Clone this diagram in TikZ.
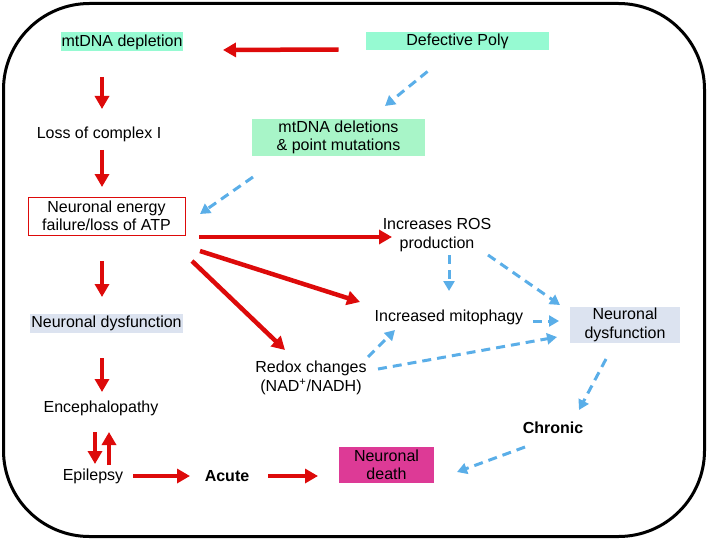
\documentclass[tikz,border=0pt]{standalone}
\usepackage{fontspec}
\setmainfont{Liberation Sans}
\usetikzlibrary{arrows.meta}
\definecolor{cred}{HTML}{DD0A0A}
\definecolor{cblue}{HTML}{5AAEE8}
\definecolor{cgreenA}{HTML}{96FAD2}
\definecolor{cgreenB}{HTML}{A8F5C8}
\definecolor{cgray}{HTML}{DCE3F0}
\definecolor{cmag}{HTML}{DD3A96}
\tikzset{
  txt/.style={font=\fontsize{16}{18.5}\selectfont, align=center, inner sep=0pt},
  redarr/.style={draw=cred, line width=4.5pt, -{Triangle[length=13pt,width=14pt]}},
  bluearr/.style={draw=cblue, line width=3pt, dash pattern=on 9pt off 6pt, -{Triangle[length=10pt,width=11pt]}}
}
\begin{document}
\begin{tikzpicture}[x=1pt,y=-1pt]
\useasboundingbox (0,0) rectangle (708,540);
\draw[line width=3pt, rounded corners=86pt] (3.5,3.5) rectangle (704.5,536.5);

\node[txt, fill=cgreenA, minimum width=122pt, minimum height=19pt] (dep) at (122,42) {mtDNA depletion};
\node[txt, fill=cgreenA, minimum width=183pt, minimum height=18pt] (poly) at (457.5,41.5) {Defective Polγ};
\node[txt] (loss) at (99,134) {Loss of complex I};
\node[txt, draw=cred, line width=1pt, fill=white, minimum width=157pt, minimum height=38pt] (nef) at (106.5,216) {Neuronal energy\\failure/loss of ATP};
\node[txt, fill=cgreenB, minimum width=173pt, minimum height=37pt] (del) at (338.5,137.5) {mtDNA deletions\\\& point mutations};
\node[txt] (ros) at (437,235) {Increases ROS\\production};
\node[txt, fill=cgray, minimum width=153pt, minimum height=19pt] (ndl) at (106.5,323.5) {Neuronal dysfunction};
\node[txt] (enc) at (101,408) {Encephalopathy};
\node[txt] (epi) at (93,476) {Epilepsy};
\node[txt, font=\fontsize{16}{18.5}\selectfont\bfseries] (acute) at (227,476) {Acute};
\node[txt, fill=cmag, minimum width=95pt, minimum height=36pt] (death) at (386.5,465) {Neuronal\\death};
\node[txt] (redox) at (311,378) {Redox changes\\(NAD\textsuperscript{+}/NADH)};
\node[txt] (mito) at (449,317) {Increased mitophagy};
\node[txt, fill=cgray, minimum width=110pt, minimum height=36pt] (ndr) at (625,325) {Neuronal\\dysfunction};
\node[txt, font=\fontsize{16}{18.5}\selectfont\bfseries] (chronic) at (553,428) {Chronic};

% red arrows
\draw[redarr] ([shift={(-119,8)}]poly.center) -- ([shift={(101,8)}]dep.center);
\draw[redarr] ([shift={(-20,35)}]dep.center) -- ([shift={(3,-25)}]loss.center);
\draw[redarr] ([shift={(3,16)}]loss.center) -- ([shift={(-4.5,-29)}]nef.center);
\draw[redarr] ([shift={(92.5,21)}]nef.center) -- ([shift={(-45,2)}]ros.center);
\draw[redarr] ([shift={(93.5,35)}]nef.center) -- ([shift={(-89,-15)}]mito.center);
\draw[redarr] ([shift={(85.5,45)}]nef.center) -- ([shift={(-26,-28)}]redox.center);
\draw[redarr] ([shift={(-4.5,45)}]nef.center) -- ([shift={(-4.5,-26.5)}]ndl.center);
\draw[redarr] ([shift={(-4.5,34.5)}]ndl.center) -- ([shift={(1,-16)}]enc.center);
\draw[redarr] ([shift={(-6,24)}]enc.center) -- ([shift={(2,-12)}]epi.center);
\draw[redarr] ([shift={(16,-11)}]epi.center) -- ([shift={(8,24)}]enc.center);
\draw[redarr] ([shift={(40,0)}]epi.center) -- ([shift={(-37,0)}]acute.center);
\draw[redarr] ([shift={(41,0)}]acute.center) -- ([shift={(-68.5,11)}]death.center);

% blue dashed arrows
\draw[bluearr] ([shift={(-30,30)}]poly.center) -- ([shift={(46.5,-31.5)}]del.center);
\draw[bluearr] ([shift={(-85.5,39.5)}]del.center) -- ([shift={(93.5,-2)}]nef.center);
\draw[bluearr] ([shift={(12,20)}]ros.center) -- ([shift={(0,-26)}]mito.center);
\draw[bluearr] ([shift={(51,20)}]ros.center) -- ([shift={(-65,-20)}]ndr.center);
\draw[bluearr] ([shift={(84,4)}]mito.center) -- ([shift={(-66,-4)}]ndr.center);
\draw[bluearr] ([shift={(67,-9)}]redox.center) -- ([shift={(-68,12)}]ndr.center);
\draw[bluearr] ([shift={(57,-21)}]redox.center) -- ([shift={(-54,13)}]mito.center);
\draw[bluearr] ([shift={(-19,34)}]ndr.center) -- ([shift={(26,-18)}]chronic.center);
\draw[bluearr] ([shift={(-28,19)}]chronic.center) -- ([shift={(70.5,7)}]death.center);
\end{tikzpicture}
\end{document}
